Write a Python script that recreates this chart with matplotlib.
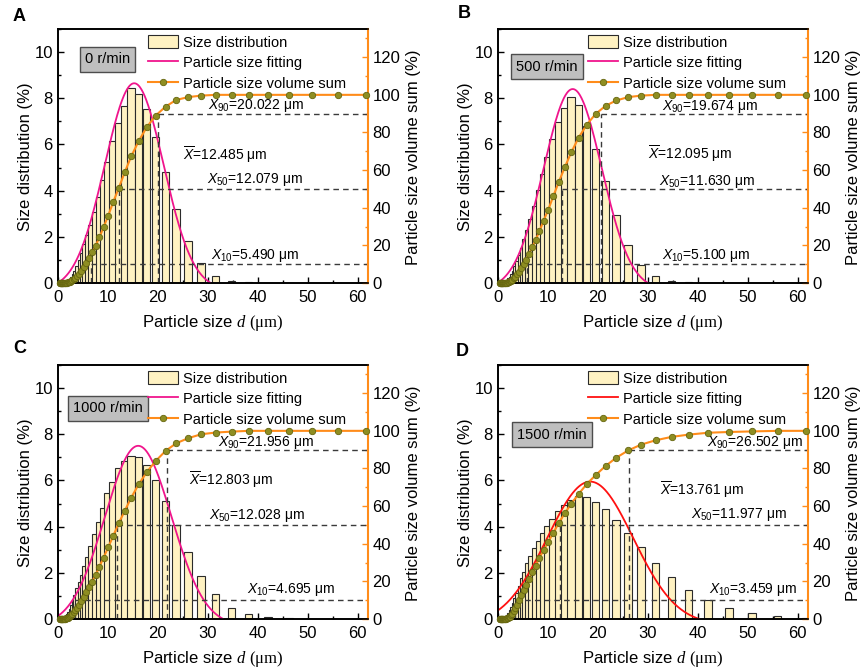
import numpy as np
import matplotlib
matplotlib.use('Agg')
import matplotlib.pyplot as plt
from matplotlib.patches import Patch
from matplotlib.lines import Line2D
from matplotlib.ticker import MultipleLocator

plt.rcParams['font.family'] = ['Liberation Sans', 'DejaVu Sans']
plt.rcParams['mathtext.fontset'] = 'custom'
plt.rcParams['mathtext.rm'] = 'Liberation Sans'
plt.rcParams['mathtext.it'] = 'Liberation Sans:italic'
plt.rcParams['mathtext.bf'] = 'Liberation Sans:bold'
plt.rcParams['mathtext.cal'] = 'Liberation Serif:italic'
plt.rcParams['mathtext.tt'] = 'Liberation Serif'

# bar centres (um), shared by all four panels
centers = [0.48, 0.53, 0.58, 0.64, 0.70, 0.77, 0.85, 0.93, 1.02, 1.13, 1.24, 1.36, 1.50,
           1.65, 1.81, 2.00, 2.20, 2.41, 2.66, 2.92, 3.21, 3.54, 3.89, 4.28, 4.71, 5.18,
           5.69, 6.26, 6.89, 7.58, 8.34, 9.17, 10.1, 11.1, 12.2, 13.4, 14.7, 16.2, 17.8,
           19.6, 21.6, 23.7, 26.1, 28.7, 31.6, 34.8, 38.2, 42.1, 46.3, 50.9, 56.0, 61.6]

dist_a = [0, 0, 0, 0, 0, 0.01, 0.01, 0.01, 0.01, 0.01, 0.01, 0.01, 0.02,
          0.02, 0.03, 0.04, 0.06, 0.09, 0.13, 0.19, 0.27, 0.39, 0.53, 0.74, 1.00, 1.31,
          1.69, 2.08, 2.52, 3.06, 3.71, 4.47, 5.25, 6.13, 6.92, 7.68, 8.44, 8.19, 7.53,
          6.34, 4.80, 3.21, 1.82, 0.86, 0.30, 0.07, 0.03, 0.01, 0, 0, 0, 0]
dist_b = [0, 0, 0, 0, 0, 0.01, 0.01, 0.01, 0.01, 0.01, 0.02, 0.02, 0.03,
          0.04, 0.05, 0.07, 0.10, 0.14, 0.20, 0.28, 0.39, 0.53, 0.72, 0.94, 1.23, 1.52,
          1.90, 2.31, 2.79, 3.35, 4.04, 4.72, 5.45, 6.23, 6.96, 7.58, 8.05, 7.72, 6.78,
          5.80, 4.40, 2.93, 1.66, 0.79, 0.32, 0.07, 0.03, 0.01, 0, 0, 0, 0]
dist_c = [0, 0, 0, 0, 0.01, 0.01, 0.01, 0.01, 0.01, 0.02, 0.02, 0.02, 0.03,
          0.05, 0.07, 0.11, 0.16, 0.23, 0.32, 0.44, 0.60, 0.80, 1.04, 1.33, 1.62, 1.91,
          2.30, 2.70, 3.16, 3.67, 4.22, 4.80, 5.45, 5.95, 6.53, 6.86, 7.07, 7.01, 6.67,
          6.00, 5.13, 4.07, 2.92, 1.88, 1.07, 0.49, 0.20, 0.07, 0.03, 0.01, 0, 0]
dist_d = [0, 0, 0, 0.01, 0.01, 0.01, 0.01, 0.01, 0.01, 0.02, 0.02, 0.02, 0.03,
          0.04, 0.06, 0.09, 0.13, 0.19, 0.27, 0.38, 0.52, 0.70, 0.90, 1.12, 1.44, 1.76,
          2.05, 2.41, 2.73, 3.06, 3.38, 3.71, 4.02, 4.35, 4.66, 4.95, 5.16, 5.32, 5.28,
          5.05, 4.75, 4.30, 3.72, 3.10, 2.44, 1.83, 1.26, 0.82, 0.46, 0.25, 0.13, 0.03]

cum_a = [0, 0, 0, 0, 0, 0, 0.01, 0.01, 0.02, 0.03, 0.04, 0.05, 0.07,
         0.12, 0.2, 0.3, 0.45, 0.7, 1.0, 1.4, 2.0, 2.8, 3.8, 5.0, 6.5, 8.3,
         10.6, 13.3, 16.3, 19.8, 24.2, 29.6, 35.8, 43.0, 50.4, 58.8, 67.3, 75.4, 82.8,
         89.0, 93.8, 97.3, 98.8, 99.6, 100, 100, 100, 100, 100, 100, 100, 100]
cum_b = [0, 0, 0, 0, 0, 0.01, 0.01, 0.02, 0.03, 0.04, 0.05, 0.06, 0.08,
         0.14, 0.22, 0.35, 0.5, 0.8, 1.2, 1.7, 2.4, 3.4, 4.6, 6.0, 7.8, 9.9,
         12.4, 15.6, 18.9, 22.9, 27.4, 33.1, 38.9, 46.0, 53.6, 61.4, 69.4, 77.3, 84.1,
         89.9, 94.2, 97.0, 98.8, 99.6, 100, 100, 100, 100, 100, 100, 100, 100]
cum_c = [0, 0, 0, 0, 0.01, 0.01, 0.02, 0.03, 0.04, 0.05, 0.07, 0.12, 0.2,
         0.3, 0.45, 0.7, 1.0, 1.4, 2.0, 2.7, 3.6, 4.7, 6.0, 7.6, 9.6, 11.7,
         14.1, 16.8, 19.9, 23.4, 27.8, 32.6, 38.1, 44.1, 50.9, 57.4, 64.5, 71.6, 78.0,
         84.0, 89.4, 93.4, 96.1, 98.2, 99.1, 99.6, 100, 100, 100, 100, 100, 100]
cum_d = [0, 0, 0, 0, 0.01, 0.01, 0.02, 0.03, 0.04, 0.05, 0.07, 0.1, 0.15,
         0.25, 0.4, 0.6, 0.9, 1.3, 1.9, 2.8, 4.0, 5.6, 7.6, 10.0, 12.5, 15.2,
         18.2, 21.4, 24.8, 28.4, 32.5, 36.6, 41.0, 45.7, 51.0, 56.1, 61.3, 66.5, 71.7,
         76.5, 81.4, 85.7, 89.6, 92.7, 95.0, 96.8, 98.0, 99.0, 99.4, 99.7, 100, 100]

# gaussian fit parameters: centre, width, amplitude, offset
fit_a = (15.3, 5.87, 8.95, -0.3)
fit_b = (15.0, 5.80, 8.70, -0.3)
fit_c = (16.1, 6.66, 7.80, -0.3)
fit_d = (18.5, 8.60, 6.20, -0.25)

# x positions of the dashed X10 / X50 / X90 guides
guides_a = [6.6, 12.3, 20.0]
guides_b = [5.8, 12.9, 20.7]
guides_c = [3.5, 11.8, 21.9]
guides_d = [3.5, 12.4, 26.3]

speeds = ['0 r/min', '500 r/min', '1000 r/min', '1500 r/min']
letters = ['A', 'B', 'C', 'D']
stats_a = ['20.022', '12.485', '12.079', '5.490']
stats_b = ['19.674', '12.095', '11.630', '5.100']
stats_c = ['21.956', '12.803', '12.028', '4.695']
stats_d = ['26.502', '13.761', '11.977', '3.459']

# (x, baseline %) for X90, Xbar, X50, X10 labels
text_pos = [
    [(30.1, 92.4), (25.1, 65.5), (29.8, 53.1), (30.6, 12.7)],
    [(32.8, 92.0), (30.1, 65.8), (32.3, 52.0), (32.9, 12.7)],
    [(32.1, 92.0), (26.3, 71.3), (30.3, 53.2), (37.9, 14.0)],
    [(41.8, 91.9), (32.5, 65.7), (38.7, 53.5), (42.3, 14.0)],
]
box_pos = [(0.161, 0.880), (0.159, 0.852), (0.161, 0.829), (0.174, 0.726)]
fit_colors = ['#F0158C', '#F0158C', '#F0158C', '#FF1010']

dists = [dist_a, dist_b, dist_c, dist_d]
cums = [cum_a, cum_b, cum_c, cum_d]
fits = [fit_a, fit_b, fit_c, fit_d]
guides = [guides_a, guides_b, guides_c, guides_d]
stats = [stats_a, stats_b, stats_c, stats_d]

bar_color = '#FFF2C2'
orange = '#FF8C1A'
dot_color = '#8E8E22'

fig = plt.figure(figsize=(8.6, 6.71), dpi=100)
W, H = 860, 671
panel_px = [(57.7, 29), (497.7, 29), (57.7, 365), (497.7, 365)]
label_px = [(13, 21), (458, 18), (13, 353), (456, 356)]

for i in range(4):
    left, top = panel_px[i]
    ax = fig.add_axes([left / W, 1 - (top + 254) / H, 310 / W, 254 / H])
    ax2 = ax.twinx()

    ax.bar(centers, dists[i], width=1.5, color=bar_color, edgecolor='#2b2b2b',
           linewidth=0.8, zorder=2)

    xc, w, amp, y0 = fits[i]
    xs = np.linspace(0, 62, 600)
    ys = y0 + amp * np.exp(-(xs - xc) ** 2 / (2 * w ** 2))
    ys[ys < 0] = np.nan
    ax.plot(xs, ys, color=fit_colors[i], lw=1.3, zorder=3)

    ax.set_xlim(0, 62)
    ax.set_ylim(0, 11)
    ax2.set_ylim(0, 135)
    ax.xaxis.set_major_locator(MultipleLocator(10))
    ax.xaxis.set_minor_locator(MultipleLocator(5))
    ax.yaxis.set_major_locator(MultipleLocator(2))
    ax.yaxis.set_minor_locator(MultipleLocator(1))
    ax2.yaxis.set_major_locator(MultipleLocator(20))
    ax2.yaxis.set_minor_locator(MultipleLocator(10))
    ax.tick_params(which='both', direction='in', top=False, right=False,
                   labelsize=12, width=1)
    ax.tick_params(axis='x', pad=5)
    ax.tick_params(which='major', length=4)
    ax.tick_params(which='minor', length=2)
    ax2.tick_params(which='both', direction='in', color=orange, labelcolor='black',
                    labelsize=12, width=1)
    ax2.tick_params(which='major', length=4)
    ax2.tick_params(which='minor', length=2)
    for sp in ax.spines.values():
        sp.set_linewidth(1.2)
    for sp in ax2.spines.values():
        sp.set_linewidth(1.2)
    ax2.spines['right'].set_color(orange)
    ax2.spines['right'].set_linewidth(1.5)
    ax.spines['right'].set_visible(False)

    # dashed guides on the cumulative axis
    for gx, lvl in zip(guides[i], [10, 50, 90]):
        ax2.plot([gx, 62], [lvl, lvl], ls=(0, (4, 3)), color='#3a3a3a', lw=1.0, zorder=2)
        ax2.plot([gx, gx], [0, lvl], ls=(0, (4, 3)), color='#3a3a3a', lw=1.0, zorder=2)

    ax2.plot(centers, cums[i], color=orange, lw=1.5, marker='o', ms=4.6,
             mfc=dot_color, mec='#66660f', mew=0.6, zorder=4, clip_on=False)

    s = stats[i]
    labels = [r'$X_{90}$=' + s[0] + ' μm', r'$\overline{X}$=' + s[1] + ' μm',
              r'$X_{50}$=' + s[2] + ' μm', r'$X_{10}$=' + s[3] + ' μm']
    for (tx, ty), lab in zip(text_pos[i], labels):
        ax2.text(tx, ty, lab, fontsize=10, ha='left', va='baseline', zorder=5)

    ax.text(box_pos[i][0], box_pos[i][1], speeds[i], transform=ax.transAxes,
            fontsize=10.5, ha='center', va='center', zorder=6,
            bbox=dict(boxstyle='square,pad=0.35', facecolor='#BFBFBF',
                      edgecolor='#4d4d4d', linewidth=1))

    handles = [Patch(facecolor=bar_color, edgecolor='#2b2b2b', linewidth=0.8),
               Line2D([], [], color=fit_colors[i], lw=1.3),
               Line2D([], [], color=orange, lw=1.5, marker='o', ms=4.6,
                      mfc=dot_color, mec='#66660f', mew=0.6)]
    ax2.legend(handles, ['Size distribution', 'Particle size fitting',
                         'Particle size volume sum'],
               loc='upper left', bbox_to_anchor=(0.29, 0.975), frameon=False,
               fontsize=10.5, borderpad=0, borderaxespad=0, handlelength=2.1,
               handleheight=1.0, handletextpad=0.35, labelspacing=0.4)

    ax.set_xlabel(r'Particle size $\mathcal{d}$ $\mathtt{(μm)}$', fontsize=12)
    ax.xaxis.set_label_coords(0.5, -0.12)
    ax.set_ylabel('Size distribution (%)', fontsize=12)
    ax.yaxis.set_label_coords(-0.08, 0.496)
    ax2.set_ylabel('Particle size volume sum (%)', fontsize=12)
    ax2.yaxis.set_label_coords(1.124, 0.496)

    fig.text(label_px[i][0] / W, 1 - label_px[i][1] / H, letters[i],
             fontsize=13, fontweight='bold', ha='left', va='baseline')

fig.savefig('out.png', dpi=100)
